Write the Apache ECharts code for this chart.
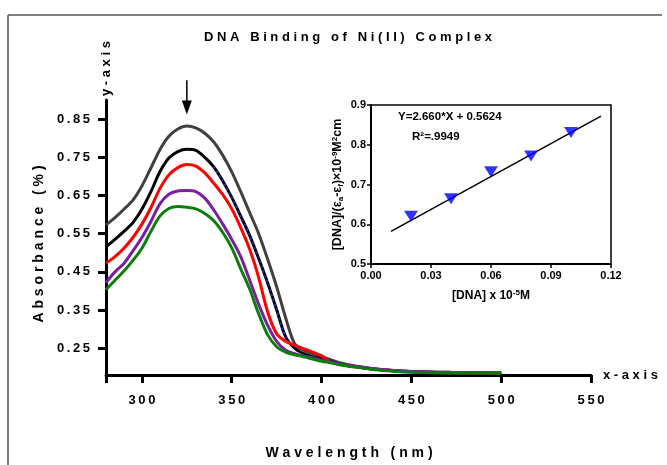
<!DOCTYPE html>
<html>
<head>
<meta charset="utf-8">
<script src="https://cdn.jsdelivr.net/npm/echarts@6.0.0/dist/echarts.min.js"></script>
<style>
  html, body { margin: 0; padding: 0; background: #fff; }
  #chart { width: 667px; height: 465px; }
</style>
</head>
<body>
<div id="chart"></div>
<script>
// wavelength (nm)
const wavelength = [280, 285, 290, 295, 300, 305, 310, 315, 320, 325, 330, 335, 340, 345, 350, 355, 360, 365, 370, 375, 380, 385, 390, 395, 400, 405, 410, 420, 430, 440, 450, 460, 470, 480, 490, 500]
// absorbance curves, top to bottom
const absGray = [0.573, 0.592, 0.614, 0.638, 0.675, 0.722, 0.770, 0.805, 0.824, 0.832, 0.827, 0.813, 0.790, 0.755, 0.712, 0.660, 0.605, 0.550, 0.483, 0.411, 0.330, 0.262, 0.245, 0.236, 0.228, 0.220, 0.212, 0.202, 0.196, 0.192, 0.189, 0.188, 0.187, 0.186, 0.186, 0.185]
const absBlack = [0.516, 0.535, 0.556, 0.579, 0.614, 0.660, 0.712, 0.748, 0.765, 0.771, 0.768, 0.750, 0.725, 0.688, 0.645, 0.596, 0.545, 0.485, 0.421, 0.351, 0.280, 0.250, 0.236, 0.228, 0.222, 0.216, 0.209, 0.201, 0.195, 0.191, 0.189, 0.187, 0.186, 0.186, 0.185, 0.185]
const absRed = [0.473, 0.490, 0.512, 0.540, 0.575, 0.618, 0.668, 0.704, 0.723, 0.731, 0.727, 0.709, 0.682, 0.652, 0.615, 0.566, 0.509, 0.435, 0.345, 0.288, 0.268, 0.258, 0.249, 0.240, 0.230, 0.214, 0.208, 0.201, 0.195, 0.191, 0.189, 0.187, 0.186, 0.186, 0.185, 0.185]
const absPurple = [0.422, 0.450, 0.472, 0.505, 0.540, 0.582, 0.628, 0.653, 0.662, 0.663, 0.660, 0.643, 0.612, 0.575, 0.535, 0.490, 0.428, 0.365, 0.310, 0.268, 0.245, 0.236, 0.230, 0.225, 0.219, 0.214, 0.209, 0.202, 0.196, 0.192, 0.189, 0.188, 0.187, 0.186, 0.186, 0.185]
const absGreen = [0.403, 0.428, 0.452, 0.480, 0.512, 0.556, 0.596, 0.616, 0.621, 0.619, 0.615, 0.603, 0.584, 0.553, 0.513, 0.458, 0.405, 0.340, 0.285, 0.254, 0.240, 0.233, 0.228, 0.222, 0.216, 0.212, 0.207, 0.200, 0.194, 0.190, 0.187, 0.186, 0.185, 0.185, 0.185, 0.185]
// stretch of the black curve where blue shows through it
const blueFrom = 340
const blueTo = 385
const xTicks = [280, 300, 350, 400, 450, 500, 550]
const xLabels = [300, 350, 400, 450, 500, 550]
const yTicks = [0.25, 0.35, 0.45, 0.55, 0.65, 0.75, 0.85]

// inset: binding plot
const dnaConc = [0.02, 0.04, 0.06, 0.08, 0.10]
const ratio = [0.620, 0.664, 0.732, 0.772, 0.831]
const fitX = [0.01, 0.115]
const fitY = [0.582, 0.872]

const FONT = 'Liberation Sans, Arial, sans-serif'
// the original uses letter-spaced bold text
const spaced = (s, sep) => String(s).split('').join(sep || ' ')
const pairs = (xs, ys) => xs.map((x, i) => [x, ys[i]])

const chart = echarts.init(document.getElementById('chart'))

function curve(name, color, data) {
  return {
    name: name,
    type: 'line',
    xAxisIndex: 0,
    yAxisIndex: 0,
    data: pairs(wavelength, data),
    showSymbol: false,
    smooth: 0.3,
    lineStyle: { color: color, width: 3 },
    z: 3
  }
}

const blueDots = curve('c2b', '#1a2fd0', absBlack)
blueDots.data = blueDots.data.filter(p => p[0] >= blueFrom && p[0] <= blueTo)
blueDots.lineStyle = { color: '#1a2fd0', width: 2, type: [2, 3] }

const option = {
  animation: false,
  backgroundColor: '#fff',
  textStyle: { fontFamily: FONT },
  grid: [
    { left: 106, right: 76, top: 100, bottom: 90 },
    { left: 371, top: 105, width: 240, height: 159, show: true, borderColor: '#000', borderWidth: 1.5, z: 5 }
  ],
  xAxis: [
    {
      gridIndex: 0,
      type: 'value',
      min: 280,
      max: 550,
      splitLine: { show: false },
      axisLine: { onZero: false, lineStyle: { color: '#000', width: 3 } },
      axisTick: { customValues: xTicks, length: 8, lineStyle: { width: 3, color: '#000' } },
      axisLabel: {
        customValues: xLabels,
        margin: 19,
        color: '#000',
        fontSize: 13,
        fontWeight: 'bold',
        fontFamily: FONT,
        formatter: v => spaced(v, '\u2009')
      },
      name: spaced('x-axis'),
      nameLocation: 'end',
      nameGap: 12,
      nameTextStyle: { color: '#000', fontSize: 13, fontWeight: 'bold', fontFamily: FONT, align: 'left', verticalAlign: 'middle', padding: [7, 0, 0, 0] }
    },
    {
      gridIndex: 1,
      type: 'value',
      min: 0,
      max: 0.12,
      interval: 0.03,
      splitLine: { show: false },
      axisLine: { onZero: false, lineStyle: { color: '#000', width: 2 } },
      axisTick: { length: 4, lineStyle: { width: 1.5, color: '#000' } },
      axisLabel: { margin: 6, color: '#000', fontSize: 11, fontWeight: 'bold', fontFamily: FONT, formatter: v => v.toFixed(2) },
      name: '[DNA] x 10{sup|-5}M',
      nameLocation: 'middle',
      nameGap: 25,
      nameTextStyle: {
        color: '#000', fontSize: 12, fontWeight: 'bold', fontFamily: FONT, lineHeight: 14,
        rich: { sup: { fontSize: 8, fontWeight: 'bold', fontFamily: FONT, lineHeight: 8, verticalAlign: 'top', color: '#000' } }
      }
    }
  ],
  yAxis: [
    {
      gridIndex: 0,
      type: 'value',
      min: 0.18,
      max: 0.9,
      splitLine: { show: false },
      axisLine: { onZero: false, lineStyle: { color: '#000', width: 3 } },
      axisTick: { customValues: yTicks, length: 8, lineStyle: { width: 3, color: '#000' } },
      axisLabel: {
        customValues: yTicks,
        margin: 16,
        color: '#000',
        fontSize: 13,
        fontWeight: 'bold',
        fontFamily: FONT,
        formatter: v => spaced(v.toFixed(2), '\u2009')
      },
      name: spaced('y-axis'),
      nameLocation: 'end',
      nameRotate: 90,
      nameGap: 4,
      nameTextStyle: { color: '#000', fontSize: 13, fontWeight: 'bold', fontFamily: FONT }
    },
    {
      gridIndex: 1,
      type: 'value',
      min: 0.5,
      max: 0.9,
      interval: 0.1,
      splitLine: { show: false },
      axisLine: { onZero: false, lineStyle: { color: '#000', width: 2 } },
      axisTick: { length: 4, lineStyle: { width: 1.5, color: '#000' } },
      axisLabel: { margin: 5, color: '#000', fontSize: 11, fontWeight: 'bold', fontFamily: FONT, formatter: v => v.toFixed(1) },
      name: '[DNA]/(\u03b5{sub|a}-\u03b5{sub|f})\u00d710{sup|-9}M{sup|2}cm',
      nameLocation: 'middle',
      nameGap: 26,
      nameTextStyle: {
        color: '#000', fontSize: 12.5, fontWeight: 'bold', fontFamily: FONT, lineHeight: 14,
        rich: {
          sup: { fontSize: 8, fontWeight: 'bold', fontFamily: FONT, lineHeight: 8, verticalAlign: 'top', color: '#000' },
          sub: { fontSize: 8, fontWeight: 'bold', fontFamily: FONT, lineHeight: 8, verticalAlign: 'bottom', color: '#000' }
        }
      }
    }
  ],
  series: [
    curve('c1', '#404040', absGray),
    curve('c2', '#000000', absBlack),
    blueDots,
    curve('c3', '#ff0000', absRed),
    curve('c4', '#7b1fa2', absPurple),
    curve('c5', '#0a7d0a', absGreen),
    {
      name: 'fit',
      type: 'line',
      xAxisIndex: 1,
      yAxisIndex: 1,
      data: pairs(fitX, fitY),
      showSymbol: false,
      lineStyle: { color: '#000', width: 1.5 },
      z: 6
    },
    {
      name: 'points',
      type: 'scatter',
      xAxisIndex: 1,
      yAxisIndex: 1,
      data: pairs(dnaConc, ratio),
      symbol: 'triangle',
      symbolRotate: 180,
      symbolSize: [14, 11],
      itemStyle: { color: '#0000ff' },
      z: 7
    }
  ],
  graphic: [
    // outer frame (top and left edges)
    { type: 'line', shape: { x1: 8, y1: 15, x2: 662, y2: 15 }, style: { stroke: '#555', lineWidth: 1.5 } },
    { type: 'line', shape: { x1: 8, y1: 15, x2: 8, y2: 465 }, style: { stroke: '#555', lineWidth: 1.5 } },
    {
      type: 'text', x: 348, y: 37,
      style: { text: spaced('DNA Binding of Ni(II) Complex'), font: 'bold 13px ' + FONT, fill: '#000', textAlign: 'center', textVerticalAlign: 'middle' }
    },
    {
      type: 'text', x: 349, y: 453,
      style: { text: spaced('Wavelength (nm)'), font: 'bold 14px ' + FONT, fill: '#000', textAlign: 'center', textVerticalAlign: 'middle' }
    },
    {
      type: 'text', x: 39, y: 244, rotation: Math.PI / 2,
      style: { text: spaced('Absorbance (%)'), font: 'bold 14px ' + FONT, fill: '#000', textAlign: 'center', textVerticalAlign: 'middle' }
    },
    {
      type: 'text', x: 398, y: 117, z: 10,
      style: { text: 'Y=2.660*X + 0.5624', font: 'bold 11.5px ' + FONT, fill: '#000', textAlign: 'left', textVerticalAlign: 'middle' }
    },
    {
      type: 'text', x: 412, y: 137, z: 10,
      style: { text: 'R\u00b2=.9949', font: 'bold 11.5px ' + FONT, fill: '#000', textAlign: 'left', textVerticalAlign: 'middle' }
    }
  ]
}

chart.setOption(option)

// arrow marking the peak, placed through the main grid's scales
const tip = chart.convertToPixel({ gridIndex: 0 }, [325, 0.862])
const tail = chart.convertToPixel({ gridIndex: 0 }, [325, 0.952])
chart.setOption({
  graphic: option.graphic.concat([
    { type: 'line', shape: { x1: tip[0], y1: tail[1], x2: tip[0], y2: tip[1] - 10 }, style: { stroke: '#000', lineWidth: 1.5 } },
    { type: 'polygon', shape: { points: [[tip[0] - 5, tip[1] - 14], [tip[0] + 5, tip[1] - 14], [tip[0], tip[1]]] }, style: { fill: '#000' } }
  ])
})
</script>
</body>
</html>
